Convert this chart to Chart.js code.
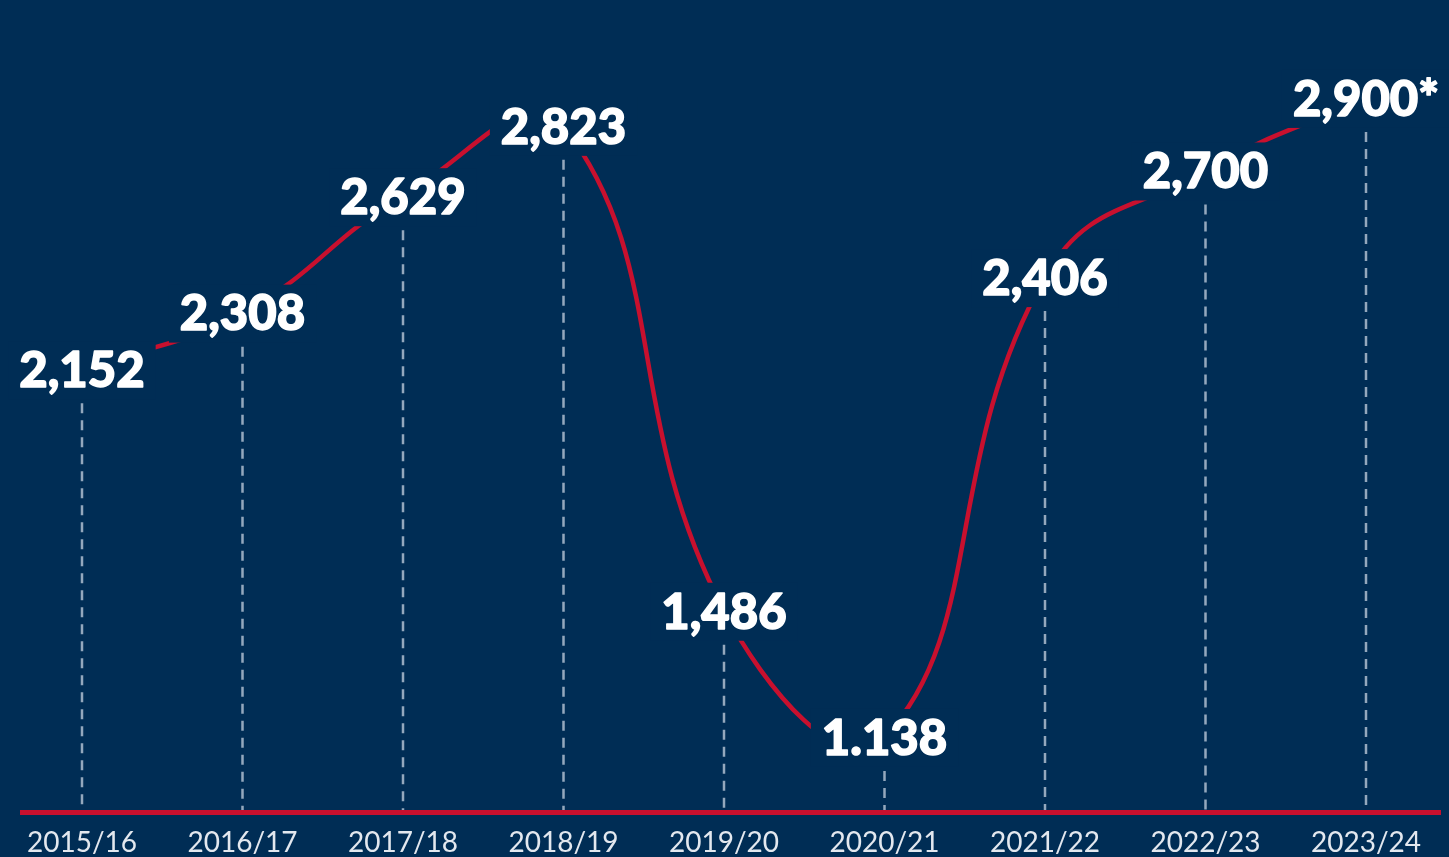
<!doctype html>
<html>
<head>
    <title>Annual Totals</title>
    <script src="https://cdn.jsdelivr.net/npm/chart.js"></script>
    <style>
        body {
            margin: 0;
            background-color: #002d55;
        }

        #wrap {
            width: 1449px;
            height: 857px;
        }
    </style>
</head>
<body>
    <div id="wrap"><canvas id="trendChart"></canvas></div>

    <script>
        const seasons = ['2015/16', '2016/17', '2017/18', '2018/19', '2019/20', '2020/21', '2021/22', '2022/23', '2023/24'];
        const totals = [2152, 2308, 2629, 2823, 1486, 1138, 2406, 2700, 2900];
        const valueLabels = ['2,152', '2,308', '2,629', '2,823', '1,486', '1.138', '2,406', '2,700', '2,900*'];

        const BG = '#002d55';
        const RED = '#c8102e';

        const decorations = {
            id: 'decorations',
            beforeDatasetsDraw(chart) {
                const ctx = chart.ctx;
                const bottom = chart.chartArea.bottom;
                const meta = chart.getDatasetMeta(0);
                ctx.save();
                // dashed drop lines
                ctx.strokeStyle = '#94a8bd';
                ctx.lineWidth = 2.5;
                ctx.setLineDash([10, 7]);
                meta.data.forEach(pt => {
                    ctx.beginPath();
                    ctx.moveTo(pt.x, pt.y + 34);
                    ctx.lineTo(pt.x, bottom);
                    ctx.stroke();
                });
                ctx.restore();
            },
            afterDatasetsDraw(chart) {
                const ctx = chart.ctx;
                const bottom = chart.chartArea.bottom;
                const meta = chart.getDatasetMeta(0);
                ctx.save();
                // red baseline across the whole width
                ctx.strokeStyle = RED;
                ctx.lineWidth = 5;
                ctx.beginPath();
                ctx.moveTo(20, bottom);
                ctx.lineTo(chart.width - 8, bottom);
                ctx.stroke();

                ctx.font = '900 49px Lato, "Open Sans", sans-serif';
                ctx.textAlign = 'center';
                ctx.textBaseline = 'middle';
                ctx.lineJoin = 'round';
                meta.data.forEach((pt, i) => {
                    const text = valueLabels[i];
                    const w = ctx.measureText(text).width;
                    ctx.fillStyle = BG;
                    ctx.fillRect(pt.x - w / 2 - 11, pt.y - 28, w + 22, 58);
                    ctx.fillStyle = '#ffffff';
                    ctx.strokeStyle = '#ffffff';
                    ctx.lineWidth = 1.5;
                    ctx.fillText(text, pt.x, pt.y + 2);
                    ctx.strokeText(text, pt.x, pt.y + 2);
                });
                ctx.restore();
            }
        };

        new Chart(document.getElementById('trendChart'), {
            type: 'line',
            data: {
                labels: seasons,
                datasets: [{
                    data: totals,
                    borderColor: RED,
                    borderWidth: 4.5,
                    pointRadius: 0,
                    tension: 0.45,
                    fill: false,
                    clip: false
                }]
            },
            options: {
                responsive: true,
                maintainAspectRatio: false,
                animation: false,
                layout: { padding: { left: 82, right: 83, top: 0, bottom: -17 } },
                plugins: {
                    legend: { display: false },
                    tooltip: { enabled: false }
                },
                scales: {
                    x: {
                        offset: false,
                        grid: { display: false, drawTicks: false },
                        border: { display: false },
                        ticks: {
                            color: '#e3e8ef',
                            padding: 14,
                            maxRotation: 0,
                            autoSkip: false,
                            font: { family: 'Lato, "Open Sans", sans-serif', size: 28 }
                        }
                    },
                    y: {
                        display: false,
                        min: 930,
                        max: 3170
                    }
                }
            },
            plugins: [decorations]
        });
    </script>
</body>
</html>
